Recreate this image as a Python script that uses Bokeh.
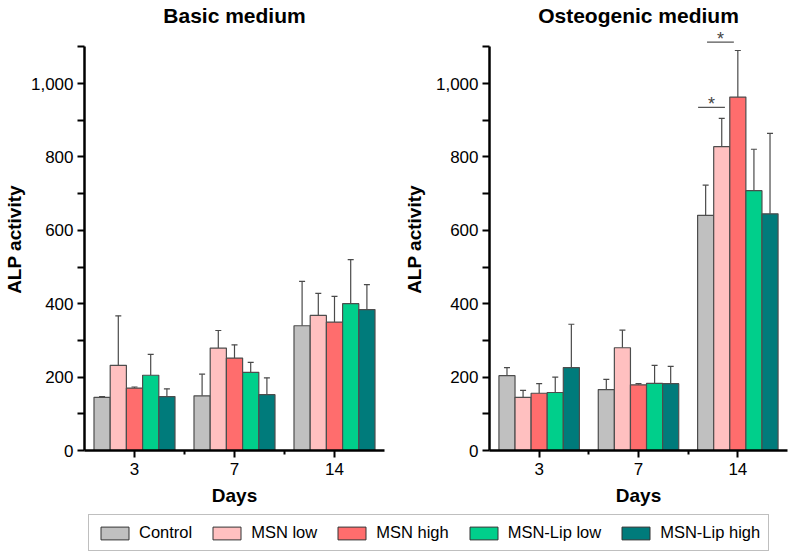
from bokeh.plotting import figure
from bokeh.models import (Range1d, FixedTicker, Whisker, TeeHead, ColumnDataSource,
                          Legend, LegendItem)
from bokeh.layouts import column, row
from bokeh.core.properties import value
from bokeh.embed import file_html
from bokeh.resources import INLINE

# ---------------- data ----------------
days = ["3", "7", "14"]
groups = ["Control", "MSN low", "MSN high", "MSN-Lip low", "MSN-Lip high"]
colors = ["#c0c0c0", "#ffc0c0", "#ff6d6d", "#00cf8b", "#007b7b"]

# [group][day]
basic_mean = [
    [145, 149, 340],
    [232, 279, 368],
    [170, 252, 350],
    [205, 213, 400],
    [147, 152, 384],
]
basic_err = [
    [2, 59, 121],
    [135, 48, 60],
    [3, 36, 70],
    [57, 27, 120],
    [21, 46, 68],
]
osteo_mean = [
    [204, 166, 641],
    [145, 280, 828],
    [156, 179, 963],
    [158, 183, 708],
    [226, 182, 645],
]
osteo_err = [
    [22, 28, 82],
    [19, 48, 77],
    [26, 3, 127],
    [42, 49, 113],
    [118, 47, 219],
]

y_ticks = [0, 100, 200, 300, 400, 500, 600, 700, 800, 900, 1000, 1100]
y_tick_labels = ["0", "", "200", "", "400", "", "600", "", "800", "", "1,000", ""]

# significance brackets (osteogenic, day 14): x0, x1, y
sig_x0 = [2.10, 2.19]
sig_x1 = [2.37, 2.46]
sig_y = [935, 1113]
sig_text = ["*", "*"]

FONT = "Liberation Sans"
BAR_W = 0.162


def make_panel(title, mean, err, fl, fw, bl, br, stars=False):
    p = figure(frame_width=fw, frame_height=422, min_border_left=bl, min_border_right=br,
               min_border_top=28, min_border_bottom=55,
               x_range=Range1d(0, 3), y_range=Range1d(0, 1150),
               toolbar_location=None, output_backend="svg", title=title)
    p.title.text_font = FONT
    p.title.text_font_size = "21px"
    p.title.text_font_style = "bold"
    p.title.align = "center"
    p.title.vertical_align = "top"
    p.title.standoff = 0
    p.title.text_color = "black"
    p.xgrid.visible = False
    p.ygrid.visible = False
    p.outline_line_color = None

    for j in range(len(groups)):
        xs = [i + 0.5 + (j - 2) * BAR_W for i in range(len(days))]
        tops = mean[j]
        uppers = [m + e for m, e in zip(mean[j], err[j])]
        src = ColumnDataSource(dict(x=xs, top=tops, upper=uppers))
        p.vbar(x="x", top="top", bottom=0, width=BAR_W, source=src,
               fill_color=colors[j], line_color="#4d4d4d", line_width=1.2)
        w = Whisker(source=src, base="x", lower="top", upper="upper", dimension="height",
                    line_color="#4a4a4a", line_width=1.2,
                    upper_head=TeeHead(size=6, line_color="#4a4a4a", line_width=1.2),
                    lower_head=None)
        p.add_layout(w)

    if stars:
        p.segment(x0=sig_x0, y0=sig_y, x1=sig_x1, y1=sig_y, line_color="#555555", line_width=1.2)
        p.text(x=[(a + b) / 2 for a, b in zip(sig_x0, sig_x1)], y=sig_y, text=sig_text,
               text_font=value(FONT), text_font_size="18px", text_color="#444444",
               text_align="center", text_baseline="alphabetic", y_offset=-3)

    ya = p.yaxis[0]
    ya.ticker = FixedTicker(ticks=y_ticks, minor_ticks=[])
    ya.major_label_overrides = {t: l for t, l in zip(y_ticks, y_tick_labels)}
    ya.bounds = (0, 1100)
    ya.axis_label = "ALP activity"
    ya.axis_label_standoff = fl
    ya.major_label_standoff = 4

    xa = p.xaxis[0]
    xa.ticker = FixedTicker(ticks=[i + 0.5 for i in range(len(days))],
                            minor_ticks=[i for i in range(1, len(days))])
    xa.major_label_overrides = {i + 0.5: d for i, d in enumerate(days)}
    xa.bounds = (0, 3)
    xa.axis_label = "Days"
    xa.axis_label_standoff = 7
    xa.major_label_standoff = 5

    for ax in (xa, ya):
        ax.axis_line_color = "black"
        ax.axis_line_width = 2.5
        ax.major_tick_line_color = "black"
        ax.major_tick_line_width = 2
        ax.major_tick_out = 7
        ax.major_tick_in = 0
        ax.minor_tick_line_color = "black"
        ax.minor_tick_line_width = 2
        ax.minor_tick_out = 4
        ax.minor_tick_in = 0
        ax.major_label_text_font = FONT
        ax.major_label_text_font_size = "17px"
        ax.major_label_text_color = "black"
        ax.axis_label_text_font = FONT
        ax.axis_label_text_font_size = "19px"
        ax.axis_label_text_font_style = "bold"
        ax.axis_label_text_color = "black"
    return p


p1 = make_panel("Basic medium", basic_mean, basic_err, 3, 300, 79, 9)
p2 = make_panel("Osteogenic medium", osteo_mean, osteo_err, 8, 298, 96, 4, stars=True)

# legend strip
pl = figure(width=780, height=49, min_border=0, toolbar_location=None, output_backend="svg",
            x_range=Range1d(0, 1), y_range=Range1d(0, 1))
pl.axis.visible = False
pl.xgrid.visible = False
pl.ygrid.visible = False
pl.outline_line_color = None
items = []
for g, c in zip(groups, colors):
    r = pl.vbar(x=[-10], top=[-5], bottom=[-6], width=0.1, fill_color=c,
                line_color="#333333", line_width=1)
    items.append(LegendItem(label=g, renderers=[r]))
leg = Legend(items=items, orientation="horizontal", location=(88, 6),
             border_line_color="#808080", border_line_width=1.5, padding=8, spacing=17,
             label_standoff=7, glyph_width=35, glyph_height=16, margin=0,
             label_text_font=FONT, label_text_font_size="16.5px", label_text_color="black")
pl.add_layout(leg, "center")

layout = column(row(p1, p2), pl)
open("out.html", "w").write(file_html(layout, INLINE))
